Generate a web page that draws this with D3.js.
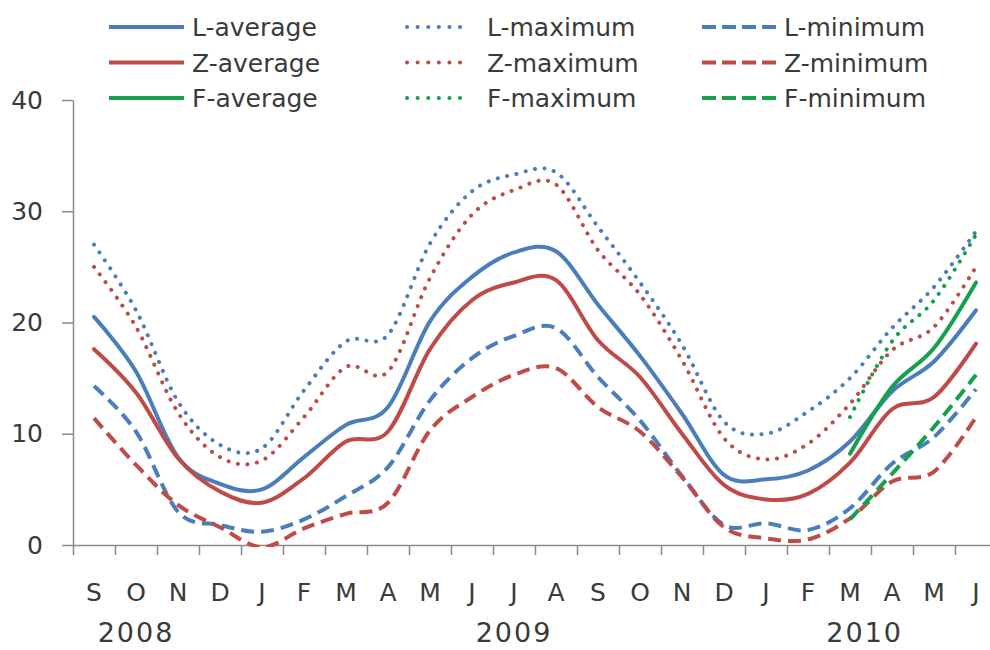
<!DOCTYPE html>
<html>
<head>
<meta charset="utf-8">
<script src="https://cdn.jsdelivr.net/npm/d3@7"></script>
<style>
  html, body { margin: 0; padding: 0; background: #ffffff; }
  svg { display: block; }
  text { font-family: "DejaVu Sans", "Open Sans", sans-serif; fill: #3a3a3a; }
</style>
</head>
<body>
<svg id="chart" width="990" height="650"></svg>
<script>
// ---------- data ----------
const months = ["S","O","N","D","J","F","M","A","M","J","J","A","S","O","N","D","J","F","M","A","M","J"];
const years = ["2008","2009","2010"];
const yearAnchor = [1, 10, 18.35];   // category index under which each year label sits
const yTicks = [0, 10, 20, 30, 40];

const lAverage = [20.5,15.6,7.9,5.5,5.0,7.9,10.8,12.4,20.1,24.1,26.3,26.4,21.6,17.0,11.8,6.3,5.9,6.7,9.3,13.8,16.5,21.1];
const lMaximum = [27.0,21.1,12.9,9.0,8.7,13.9,18.3,18.9,27.1,31.8,33.3,33.5,28.6,23.6,18.0,11.1,10.0,12.0,15.0,19.5,23.2,28.2];
const lMinimum = [14.3,10.2,3.0,1.8,1.2,2.3,4.4,7.0,13.0,16.8,18.8,19.5,15.1,11.2,6.2,1.8,1.95,1.35,3.3,7.3,9.7,14.0];

const zAverage = [17.6,13.7,7.8,4.8,3.8,6.0,9.3,10.2,17.6,22.0,23.6,23.8,18.4,15.1,10.0,5.4,4.1,4.6,7.4,12.2,13.3,18.1];
const zMaximum = [25.0,19.6,11.9,7.9,7.6,11.5,16.0,15.6,24.0,29.7,31.9,32.4,26.5,22.5,16.6,9.6,7.7,9.1,12.7,17.5,19.6,25.0];
const zMinimum = [11.4,7.2,3.6,1.6,-0.2,1.5,2.8,3.8,10.3,13.3,15.3,15.9,12.4,10.2,6.1,1.6,0.6,0.5,2.4,5.7,6.6,11.5];

// F series only cover the last four months (M, A, M, J of 2010)
const fStart = 18;
const fAverage = [8.2,14.2,17.7,23.6];
const fMaximum = [11.5,18.3,22.0,27.9];
const fMinimum = [2.3,6.4,10.6,15.3];

const colors = { L: "#4a7ebb", Z: "#be4b48", F: "#17a04b" };

// ---------- layout ----------
const svg = d3.select("#chart");
const plotLeft = 73, plotTop = 100, plotBottom = 545;
const bandW = 42;

const x = d3.scaleBand().domain(d3.range(months.length))
  .range([plotLeft, plotLeft + bandW * months.length]).padding(0);
const xEdge = d3.scaleLinear().domain([0, months.length])
  .range([plotLeft, plotLeft + bandW * months.length]);
const xc = i => x(i) + x.bandwidth() / 2;
const y = d3.scaleLinear().domain([0, 40]).range([plotBottom, plotTop]);

// clip
svg.append("defs").append("clipPath").attr("id", "clip")
  .append("rect").attr("x", plotLeft).attr("y", 80)
  .attr("width", 990 - plotLeft).attr("height", plotBottom + 2 - 80);

// ---------- axes ----------
const axisColor = "#8a8a8a";

const yAxis = svg.append("g").attr("transform", `translate(${plotLeft},0)`)
  .call(d3.axisLeft(y).tickValues(yTicks).tickSize(11).tickPadding(19).tickSizeOuter(0));
yAxis.selectAll("path, line").attr("stroke", axisColor).attr("stroke-width", 1.5);
yAxis.selectAll("text").style("font-size", "25px").attr("fill", "#3a3a3a");

// x tick marks at category boundaries
const xTickAxis = svg.append("g").attr("transform", `translate(0,${plotBottom})`)
  .call(d3.axisBottom(xEdge).tickValues(d3.range(0, months.length + 1)).tickFormat("")
    .tickSize(10).tickSizeOuter(0));
xTickAxis.select("path").attr("d", `M${plotLeft},0.5H990`);
xTickAxis.selectAll("path, line").attr("stroke", axisColor).attr("stroke-width", 1.5);

// month labels
const xLab = svg.append("g").attr("transform", `translate(0,${plotBottom})`)
  .call(d3.axisBottom(x).tickFormat(i => months[i]).tickSize(0).tickPadding(38));
xLab.select("path").remove();
xLab.selectAll("text").style("font-size", "25px").attr("fill", "#3a3a3a");

// year labels
const xYear = d3.scaleLinear().domain([0, months.length - 1]).range([xc(0), xc(months.length - 1)]);
svg.append("g").selectAll("text").data(years).join("text")
  .attr("x", (d, i) => xYear(yearAnchor[i]))
  .attr("y", 642)
  .attr("text-anchor", "middle")
  .style("font-size", "27px")
  .style("letter-spacing", "2px")
  .text(d => d);

// ---------- lines ----------
const styles = {
  average: { width: 4, dash: null, cap: "round" },
  maximum: { width: 4, dash: "0.1 9.5", cap: "round" },
  minimum: { width: 4, dash: "13 7", cap: "butt" }
};

const series = [
  { name: "L-maximum", g: "L", kind: "maximum", values: lMaximum, start: 0 },
  { name: "Z-maximum", g: "Z", kind: "maximum", values: zMaximum, start: 0 },
  { name: "L-minimum", g: "L", kind: "minimum", values: lMinimum, start: 0 },
  { name: "Z-minimum", g: "Z", kind: "minimum", values: zMinimum, start: 0 },
  { name: "L-average", g: "L", kind: "average", values: lAverage, start: 0 },
  { name: "Z-average", g: "Z", kind: "average", values: zAverage, start: 0 },
  { name: "F-maximum", g: "F", kind: "maximum", values: fMaximum, start: fStart },
  { name: "F-minimum", g: "F", kind: "minimum", values: fMinimum, start: fStart },
  { name: "F-average", g: "F", kind: "average", values: fAverage, start: fStart }
];

const line = d3.line()
  .x(d => xc(d.i))
  .y(d => y(d.v))
  .curve(d3.curveCatmullRom.alpha(0));

const linesG = svg.append("g").attr("clip-path", "url(#clip)");
series.forEach(s => {
  const pts = s.values.map((v, k) => ({ i: s.start + k, v }));
  const st = styles[s.kind];
  linesG.append("path")
    .datum(pts)
    .attr("d", line)
    .attr("fill", "none")
    .attr("stroke", colors[s.g])
    .attr("stroke-width", st.width)
    .attr("stroke-linecap", st.cap)
    .attr("stroke-linejoin", "round")
    .attr("stroke-dasharray", st.dash);
});

// ---------- legend ----------
const legendRows = ["L", "Z", "F"];
const legendCols = [
  { kind: "average", x0: 109, x1: 184, tx: 192 },
  { kind: "maximum", x0: 407, x1: 470, tx: 487 },
  { kind: "minimum", x0: 702, x1: 777, tx: 784 }
];
const legendY = [27, 62.5, 98];
const lg = svg.append("g");
legendRows.forEach((r, ri) => {
  legendCols.forEach(c => {
    const st = styles[c.kind];
    lg.append("line")
      .attr("x1", c.x0).attr("x2", c.x1)
      .attr("y1", legendY[ri]).attr("y2", legendY[ri])
      .attr("stroke", colors[r])
      .attr("stroke-width", st.width)
      .attr("stroke-linecap", c.kind === "average" ? "butt" : st.cap)
      .attr("stroke-dasharray", c.kind === "maximum" ? "0.1 10.5" : (c.kind === "minimum" ? "14 6" : null));
    lg.append("text")
      .attr("x", c.tx).attr("y", legendY[ri])
      .attr("dy", "0.36em")
      .style("font-size", "25px")
      .text(`${r}-${c.kind}`);
  });
});
</script>
</body>
</html>
